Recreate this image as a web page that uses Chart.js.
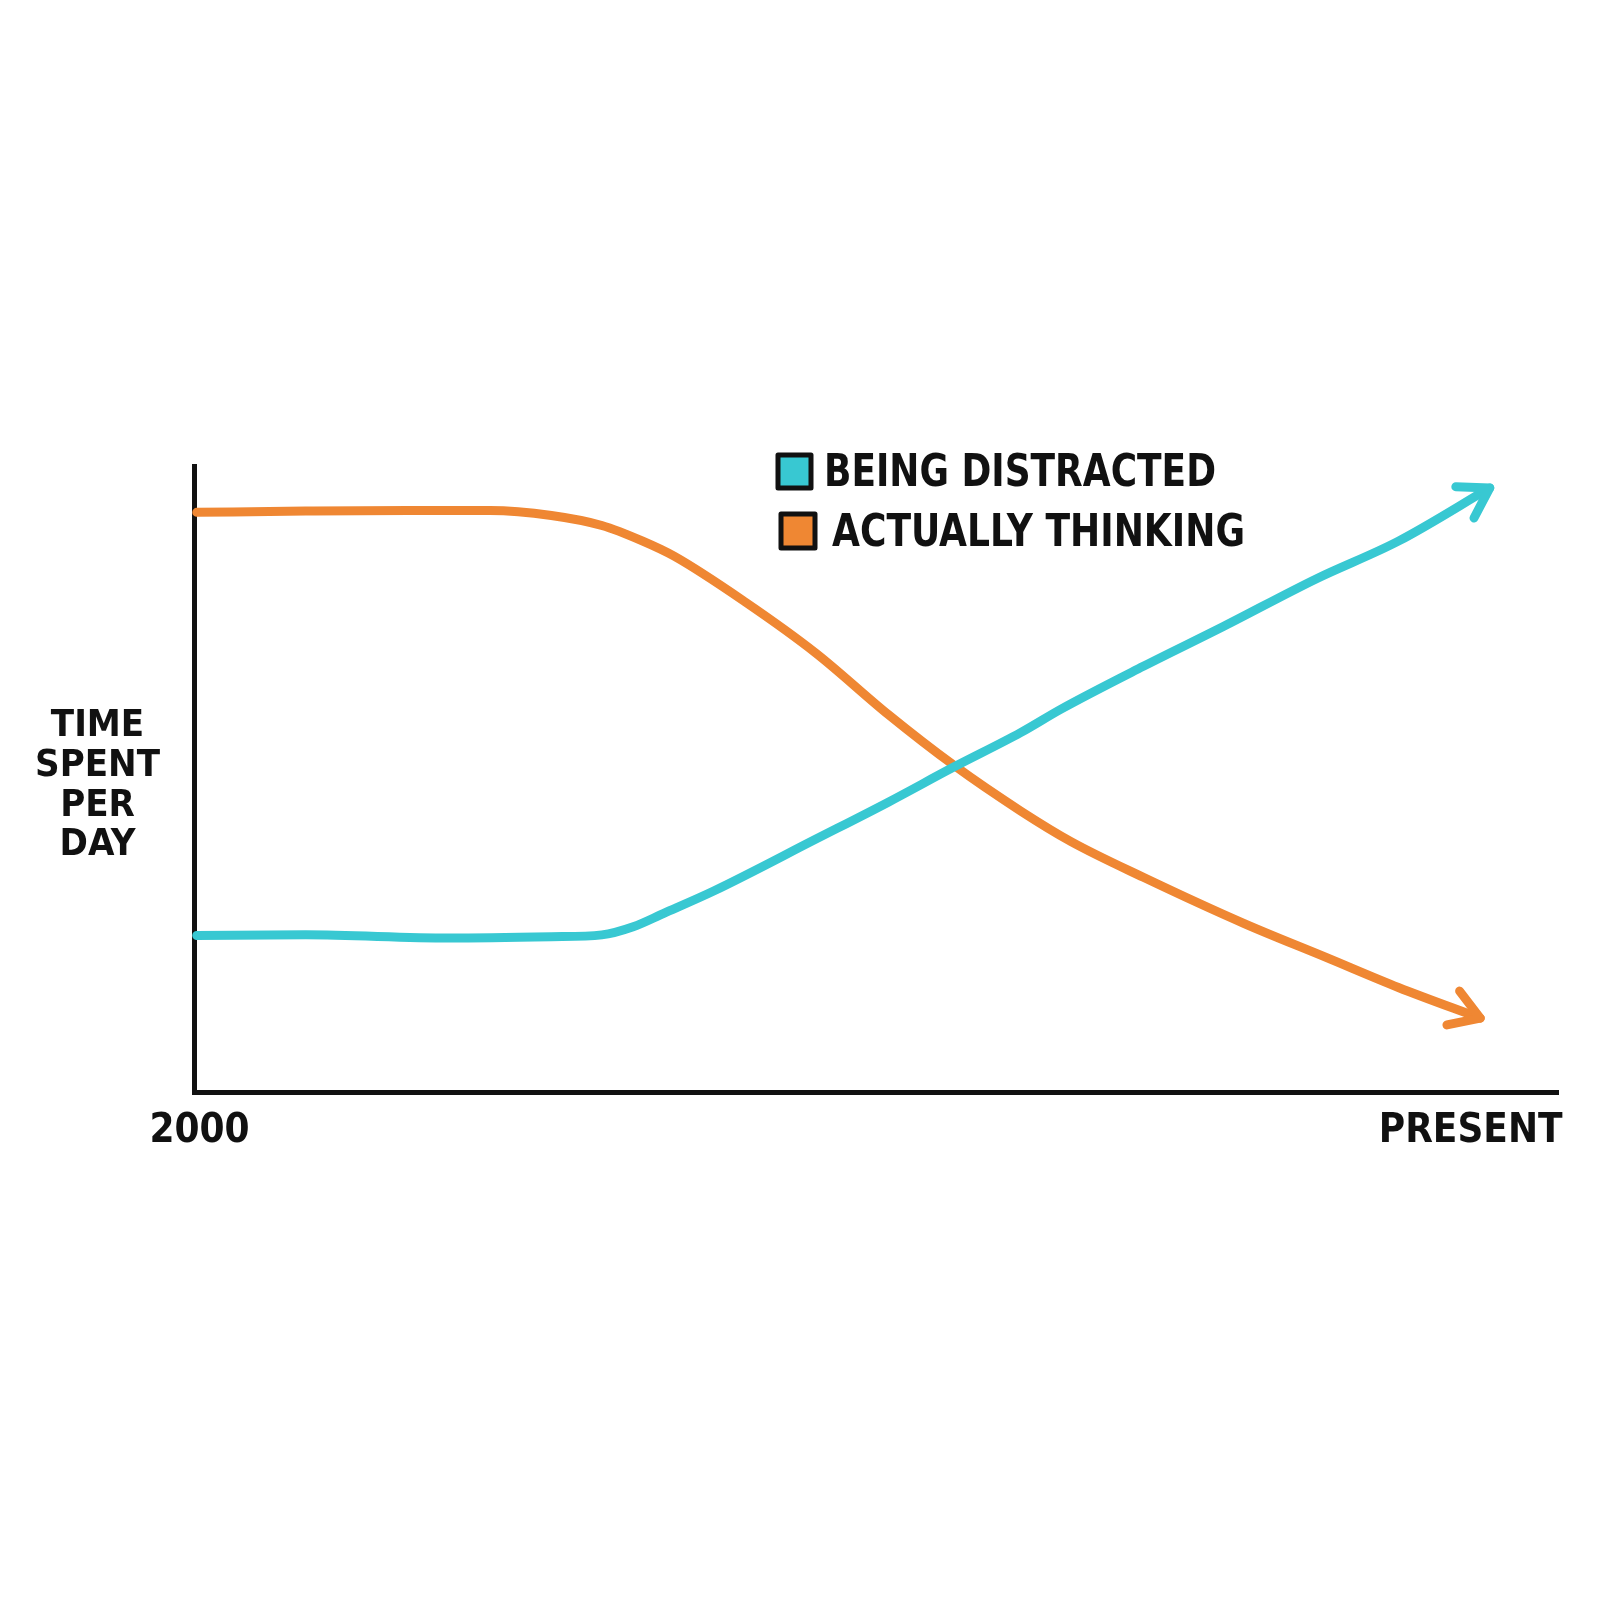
<!DOCTYPE html>
<html>
<head>
<meta charset="utf-8">
<style>
  html, body { margin: 0; padding: 0; background: #fff; }
  #wrap { width: 1600px; height: 1600px; }
</style>
<script src="https://cdn.jsdelivr.net/npm/chart.js@4/dist/chart.umd.min.js"></script>
</head>
<body>
<div id="wrap"><canvas id="chart" width="1600" height="1600"></canvas></div>
<script>
// ── DATA ──────────────────────────────────────────────────────────────────
// x: 0 = 2000, 100 = present (end of axis); y: share of the day, 0..100

var seriesLabels = ['BEING DISTRACTED', 'ACTUALLY THINKING'];

var distractedX = [0.2, 8.2, 18.7, 26.2, 29.9, 32.2, 34.4, 38.1, 45.6, 50.9, 55.7, 60.6, 63.6, 69.6, 75.5, 82.3, 88.3, 95.0];
var distractedY = [25.0, 25.1, 24.6, 24.8, 25.1, 26.4, 28.5, 32.1, 40.4, 46.3, 51.9, 57.4, 61.2, 68.0, 74.4, 82.0, 88.0, 96.5];

var thinkingX = [0.2, 8.2, 15.7, 21.7, 26.2, 29.9, 32.9, 35.2, 40.4, 45.6, 50.9, 55.7, 60.6, 64.3, 69.6, 77.0, 83.0, 88.3, 94.3];
var thinkingY = [92.6, 92.8, 92.9, 92.9, 92.1, 90.5, 88.0, 85.6, 78.3, 70.1, 60.3, 52.2, 44.9, 40.0, 34.3, 26.9, 21.5, 16.7, 11.8];

var xTickValues = [0.4, 93.6];
var xTickLabels = ['2000', 'PRESENT'];

var yTickValues = [48.9];
var yTickLabels = [['TIME', 'SPENT', 'PER', 'DAY']];

// ── STYLE ─────────────────────────────────────────────────────────────────

var CYAN   = '#38c8d2';
var ORANGE = '#ef8733';
var INK    = '#111111';
var FONT   = "'Liberation Sans Narrow', 'DejaVu Sans Condensed', 'Liberation Sans', sans-serif";

function zip(xs, ys) {
  return xs.map(function (x, i) { return { x: x, y: ys[i] }; });
}

// ── PLUGINS ───────────────────────────────────────────────────────────────

// Arrow heads at the last point of each line
var arrowHeads = {
  id: 'arrowHeads',
  afterDatasetsDraw: function (chart) {
    var ctx = chart.ctx;
    chart.data.datasets.forEach(function (ds, i) {
      var pts = chart.getDatasetMeta(i).data;
      if (pts.length < 2) return;
      var tip  = pts[pts.length - 1];
      var prev = pts[pts.length - 2];
      var ang  = Math.atan2(tip.y - prev.y, tip.x - prev.x);
      var len  = 34, spread = 0.56;
      ctx.save();
      ctx.strokeStyle = ds.borderColor;
      ctx.lineWidth   = ds.borderWidth;
      ctx.lineCap     = 'round';
      ctx.lineJoin    = 'round';
      ctx.beginPath();
      ctx.moveTo(tip.x - len * Math.cos(ang - spread), tip.y - len * Math.sin(ang - spread));
      ctx.lineTo(tip.x, tip.y);
      ctx.lineTo(tip.x - len * Math.cos(ang + spread), tip.y - len * Math.sin(ang + spread));
      ctx.stroke();
      ctx.restore();
    });
  }
};

// Two-row legend inside the plot, boxes outlined in ink
var boxLegend = {
  id: 'boxLegend',
  afterDraw: function (chart) {
    var ctx = chart.ctx;
    var rows = [
      { bx: 778, by: 455, size: 33, tx: 824, ty: 475, w: 392 },
      { bx: 781, by: 514, size: 34, tx: 832, ty: 535, w: 413 }
    ];
    ctx.save();
    ctx.font = 'bold 44px ' + FONT;
    ctx.textBaseline = 'middle';
    chart.data.datasets.forEach(function (ds, i) {
      var r = rows[i];
      ctx.fillStyle = ds.borderColor;
      ctx.fillRect(r.bx, r.by, r.size, r.size);
      ctx.strokeStyle = INK;
      ctx.lineWidth = 5;
      ctx.lineJoin = 'round';
      ctx.strokeRect(r.bx, r.by, r.size, r.size);
      ctx.fillStyle = INK;
      // squeeze the lettering to the hand-drawn width
      var tw = ctx.measureText(ds.label).width;
      var sx = Math.min(1, r.w / tw);
      ctx.save();
      ctx.translate(r.tx, r.ty);
      ctx.scale(sx, 1);
      ctx.fillText(ds.label, 0, 0);
      ctx.restore();
    });
    ctx.restore();
  }
};

// ── CHART ─────────────────────────────────────────────────────────────────

new Chart(document.getElementById('chart'), {
  type: 'line',
  data: {
    datasets: [{
      label:            seriesLabels[0],
      data:             zip(distractedX, distractedY),
      borderColor:      CYAN,
      backgroundColor:  CYAN,
      borderWidth:      9,
      pointRadius:      0,
      cubicInterpolationMode: 'monotone',
      borderCapStyle:   'round',
      clip:             false,
    }, {
      label:            seriesLabels[1],
      data:             zip(thinkingX, thinkingY),
      borderColor:      ORANGE,
      backgroundColor:  ORANGE,
      borderWidth:      9,
      pointRadius:      0,
      cubicInterpolationMode: 'monotone',
      borderCapStyle:   'round',
      clip:             false,
    }],
  },
  options: {
    responsive: false,
    animation:  false,
    layout: { padding: { top: 466, right: 42, bottom: 448, left: 0 } },
    plugins: {
      legend:  { display: false },
      tooltip: { enabled: false },
    },
    scales: {
      x: {
        type: 'linear',
        min: 0,
        max: 100,
        afterFit: function (scale) { scale.height = 60; },
        afterBuildTicks: function (scale) {
          scale.ticks = xTickValues.map(function (v) { return { value: v }; });
        },
        ticks: {
          autoSkip:    false,
          maxRotation: 0,
          padding:     8,
          color:       INK,
          font:        { family: FONT, size: 40, weight: 'bold' },
          callback: function (value, index) { return xTickLabels[index]; },
        },
        grid:   { display: false },
        border: { display: true, color: INK, width: 5 },
      },
      y: {
        type: 'linear',
        min: 0,
        max: 100,
        afterFit: function (scale) { scale.width = 194; },
        afterBuildTicks: function (scale) {
          scale.ticks = yTickValues.map(function (v) { return { value: v }; });
        },
        ticks: {
          autoSkip:  false,
          crossAlign: 'center',
          padding:   26,
          color:     INK,
          font:      { family: FONT, size: 38, weight: 'bold', lineHeight: 1.04 },
          callback: function (value, index) { return yTickLabels[index]; },
        },
        grid:   { display: false },
        border: { display: true, color: INK, width: 5 },
      },
    },
  },
  plugins: [arrowHeads, boxLegend],
});
</script>
</body>
</html>
